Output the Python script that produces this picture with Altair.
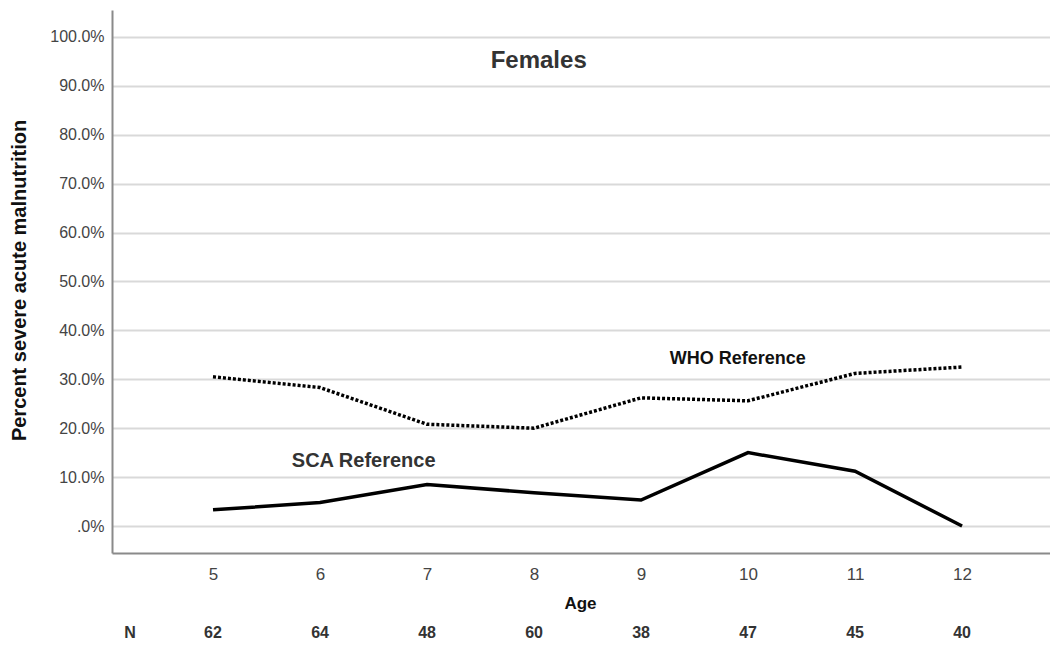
import altair as alt
import pandas as pd

ages = [5, 6, 7, 8, 9, 10, 11, 12]
who_pct = [30.5, 28.3, 20.8, 20.0, 26.2, 25.6, 31.2, 32.5]
sca_pct = [3.3, 4.8, 8.5, 6.8, 5.3, 15.0, 11.2, 0.0]
n_counts = [62, 64, 48, 60, 38, 47, 45, 40]
y_ticks = [0, 10, 20, 30, 40, 50, 60, 70, 80, 90, 100]

FONT = "Liberation Sans"

df = pd.DataFrame({"age": ages, "who": who_pct, "sca": sca_pct, "n": n_counts})

x_scale = alt.Scale(domain=[4.056, 12.822], nice=False, zero=False)
y_scale = alt.Scale(domain=[-5.52, 105.5], nice=False, zero=False)

x_enc = alt.X(
    "age:Q",
    scale=x_scale,
    axis=alt.Axis(
        values=ages,
        format="d",
        grid=False,
        ticks=False,
        domain=True,
        domainColor="#8a8a8a",
        domainWidth=2,
        labelFont=FONT,
        labelFontSize=17,
        labelColor="#444444",
        labelPadding=13,
        title="Age",
        titleFont=FONT,
        titleFontSize=17,
        titleFontWeight="bold",
        titleColor="#111111",
        titleX=468,
        titleY=50,
        titleAlign="center",
        titleBaseline="middle",
    ),
)

y_axis = alt.Axis(
    values=y_ticks,
    labelExpr="datum.value == 0 ? '.0%' : format(datum.value, '.1f') + '%'",
    grid=True,
    gridColor="#d9d9d9",
    gridWidth=2,
    ticks=False,
    domain=True,
    domainColor="#8a8a8a",
    domainWidth=2,
    labelFont=FONT,
    labelFontSize=16,
    labelColor="#444444",
    labelPadding=8,
    title="Percent severe acute malnutrition",
    titleFont=FONT,
    titleFontSize=20,
    titleFontWeight="bold",
    titleColor="#111111",
    titleAngle=-90,
    titleX=-93,
    titleY=270,
    titleAlign="center",
    titleBaseline="middle",
)

base = alt.Chart(df)

who_line = base.mark_line(color="#000000", strokeWidth=3.5, strokeDash=[3, 2]).encode(
    x=x_enc,
    y=alt.Y("who:Q", scale=y_scale, axis=y_axis),
)

sca_line = base.mark_line(color="#000000", strokeWidth=3.5).encode(
    x=alt.X("age:Q", scale=x_scale),
    y=alt.Y("sca:Q", scale=y_scale),
)

n_text = base.mark_text(font=FONT, fontSize=16, fontWeight="bold", color="#333333", baseline="middle").encode(
    x=alt.X("age:Q", scale=x_scale),
    y=alt.value(623),
    text=alt.Text("n:Q", format="d"),
)

labels = pd.DataFrame({
    "label": ["N", "Females", "WHO Reference", "SCA Reference"],
})

n_label = alt.Chart(labels[labels.label == "N"]).mark_text(
    font=FONT, fontSize=16, fontWeight="bold", color="#333333", baseline="middle"
).encode(x=alt.value(18), y=alt.value(623), text="label:N")

females = alt.Chart(labels[labels.label == "Females"]).mark_text(
    font=FONT, fontSize=24, fontWeight="bold", color="#333333", baseline="middle"
).encode(x=alt.value(426.7), y=alt.value(50.7), text="label:N")

who_label = alt.Chart(labels[labels.label == "WHO Reference"]).mark_text(
    font=FONT, fontSize=18, fontWeight="bold", color="#111111", baseline="middle"
).encode(x=alt.value(625.7), y=alt.value(349), text="label:N")

sca_label = alt.Chart(labels[labels.label == "SCA Reference"]).mark_text(
    font=FONT, fontSize=20, fontWeight="bold", color="#333333", baseline="middle"
).encode(x=alt.value(251.7), y=alt.value(450.7), text="label:N")

chart = alt.layer(
    who_line, sca_line, n_text, n_label, females, who_label, sca_label
).properties(
    width=938,
    height=543,
    autosize=alt.AutoSizeParams(type="none"),
    padding={"left": 104, "top": 2, "right": 0, "bottom": 90},
    background="#ffffff",
).configure_view(
    stroke=None
)

chart.save("out.html", embed_options={"renderer": "svg", "actions": False})
